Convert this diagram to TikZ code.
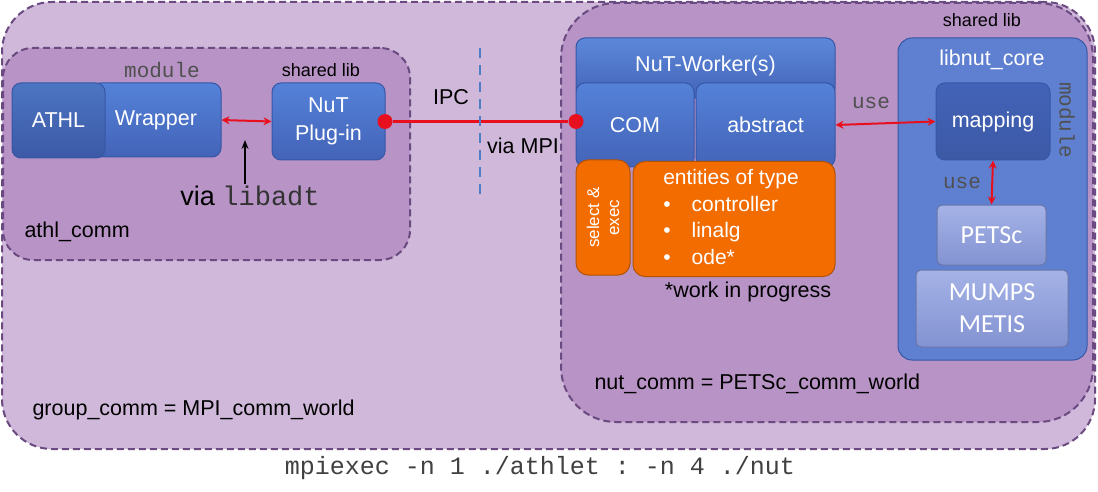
\documentclass[tikz,border=0pt]{standalone}
\usepackage{fontspec}
\setmainfont{Liberation Sans}
\setmonofont{Liberation Mono}
\newfontfamily\calfont{Carlito}
\usetikzlibrary{arrows.meta}
\definecolor{outerfill}{HTML}{CFB8D9}
\definecolor{innerfill}{HTML}{B893C6}
\definecolor{frame}{HTML}{6A4A80}
\definecolor{blueedge}{HTML}{3656A6}
\definecolor{bluetop}{HTML}{5482D8}
\definecolor{bluebot}{HTML}{4363B8}
\definecolor{corefill}{HTML}{5F80D0}
\definecolor{petstop}{HTML}{A4B2E6}
\definecolor{petsbot}{HTML}{8393D2}
\definecolor{orangefill}{HTML}{F26C00}
\definecolor{orangeedge}{HTML}{B45200}
\definecolor{linkred}{HTML}{E8101E}
\definecolor{ipcblue}{HTML}{4F7CC4}
\definecolor{monogray}{HTML}{505050}
\tikzset{
  comm/.style={draw=frame, line width=2pt, dash pattern=on 7pt off 4pt, rounded corners=#1, inner sep=0},
  bluebox/.style={draw=blueedge, line width=1pt, top color=bluetop, bottom color=bluebot, rounded corners=9pt, text=white, inner sep=0, font=\fontsize{21.5}{28}\selectfont},
  libbox/.style={draw=petsbot!80!black, line width=1pt, top color=petstop, bottom color=petsbot, rounded corners=5pt, text=white, inner sep=0, align=center, font=\calfont\fontsize{26}{32}\selectfont},
  orangebox/.style={draw=orangeedge, line width=1pt, fill=orangefill, rounded corners=12pt, text=white, inner sep=0},
  txt/.style={font=\fontsize{21.5}{26}\selectfont},
  mono/.style={text=monogray, font=\ttfamily\fontsize{21}{25}\selectfont},
  link/.style={linkred, line width=2pt, {Stealth[length=8pt,width=8pt]}-{Stealth[length=8pt,width=8pt]}}
}
\begin{document}
\begin{tikzpicture}[x=1pt,y=-1pt]
\useasboundingbox (0,0) rectangle (1098,492);
\node[comm=50pt, fill=outerfill, minimum width=1093, minimum height=447] (groupcomm) at (548.5,225.5) {};
\node[comm=30pt, fill=innerfill, minimum width=407, minimum height=212] (athlcomm) at (206.5,154) {};
\node[comm=55pt, fill=innerfill, minimum width=532, minimum height=419] (nutcomm) at (827,212.5) {};

\node[bluebox, minimum width=130, minimum height=74] (wrapper) at (156,120) {Wrapper};
\node[bluebox, minimum width=93, minimum height=75, top color=bluetop!90!black, bottom color=bluebot!90!black] (athl) at (58.5,120.5) {ATHL};
\node[mono] (modlabel) at (162,70) {module};
\node[bluebox, minimum width=113, minimum height=77, align=center] (plugin) at (328.5,121.5) {NuT\\Plug-in};
\node[txt, font=\fontsize{18}{22}\selectfont] (sharedA) at (321,70) {shared lib};
\draw[link] (wrapper.east) -- (plugin.west);
\coordinate (libtail) at (245,184);
\coordinate (libhead) at (245,140);
\draw[line width=1.5pt, -{Stealth[length=9pt,width=7pt]}] (libtail) -- (libhead);
\node[anchor=north, inner sep=0] (viaadt) at (250,186) {\fontsize{27}{30}\selectfont via \textcolor{black!80}{\ttfamily libadt}};
\node[txt, anchor=west] (athllabel) at (21,232) {athl\_comm};

\node[bluebox, minimum width=259, minimum height=60, text depth=8pt, top color=bluetop!95!white] (worker) at (705.5,68) {NuT-Worker(s)};
\node[bluebox, minimum width=118, minimum height=84] (com) at (635,125) {COM};
\node[bluebox, minimum width=139, minimum height=84] (abstract) at (765.5,125) {abstract};
\node[orangebox, minimum width=54, minimum height=115] (select) at (603,217.5) {};
\node[rotate=90, text=white, align=center, inner sep=0, font=\fontsize{17}{20}\selectfont] (selecttext) at (select.center) {select \&\\exec};
\node[orangebox, minimum width=202, minimum height=115, text=white, font=\fontsize{21}{26.5}\selectfont] (entities) at (734,219)
  {\begin{tabular}{@{}l@{\hspace{21pt}}l@{}}\multicolumn{2}{c}{\hspace{-6pt}entities of type}\\ \textbullet & controller\\ \textbullet & linalg\\ \textbullet & ode*\end{tabular}};
\node[txt] (wip) at (748,292) {*work in progress};

\node[draw=blueedge, line width=1pt, fill=corefill, rounded corners=14pt, minimum width=189, minimum height=322] (core) at (992.5,199) {};
\node[txt, text=white] (corelabel) at (992,60) {libnut\_core};
\node[txt, font=\fontsize{18}{22}\selectfont] (sharedB) at (982,20) {shared lib};
\node[bluebox, minimum width=114, minimum height=77, top color=bluebot, bottom color=bluebot!90!black] (mapping) at (993,121.5) {mapping};
\node[mono, rotate=-90] (modcore) at (1067,120) {module};
\node[libbox, minimum width=109, minimum height=60] (petsc) at (991.5,235) {PETSc};
\node[libbox, minimum width=152, minimum height=77] (mumps) at (992,308.5) {MUMPS\\METIS};
\draw[link] (abstract.east) -- (mapping.west);
\node[mono] (useA) at (871,103) {use};
\draw[link] (mapping.south) -- (petsc.north);
\node[mono] (useB) at (962,183) {use};

\node[circle, fill=linkred, inner sep=0, minimum size=15] (dotL) at (385,121.5) {};
\node[circle, fill=linkred, inner sep=0, minimum size=15] (dotR) at (576,121.5) {};
\draw[linkred, line width=2.5pt] (dotL) -- (dotR);
\coordinate (ipctop) at (480,48);
\coordinate (ipcbot) at (480,195);
\draw[ipcblue, line width=2.5pt, dash pattern=on 10pt off 7pt] (ipctop) -- (ipcbot);
\node[txt] (ipc) at (451,97) {IPC};
\node[txt] (viampi) at (523,146) {via MPI};

\node[txt, anchor=west] (nutlabel) at (591,384) {nut\_comm = PETSc\_comm\_world};
\node[txt, anchor=west] (grouplabel) at (29,410) {group\_comm = MPI\_comm\_world};
\node[mono, text=black!75, font=\ttfamily\fontsize{25}{28}\selectfont] (cmdline) at (540,468) {mpiexec -n 1 ./athlet : -n 4 ./nut};
\end{tikzpicture}
\end{document}
